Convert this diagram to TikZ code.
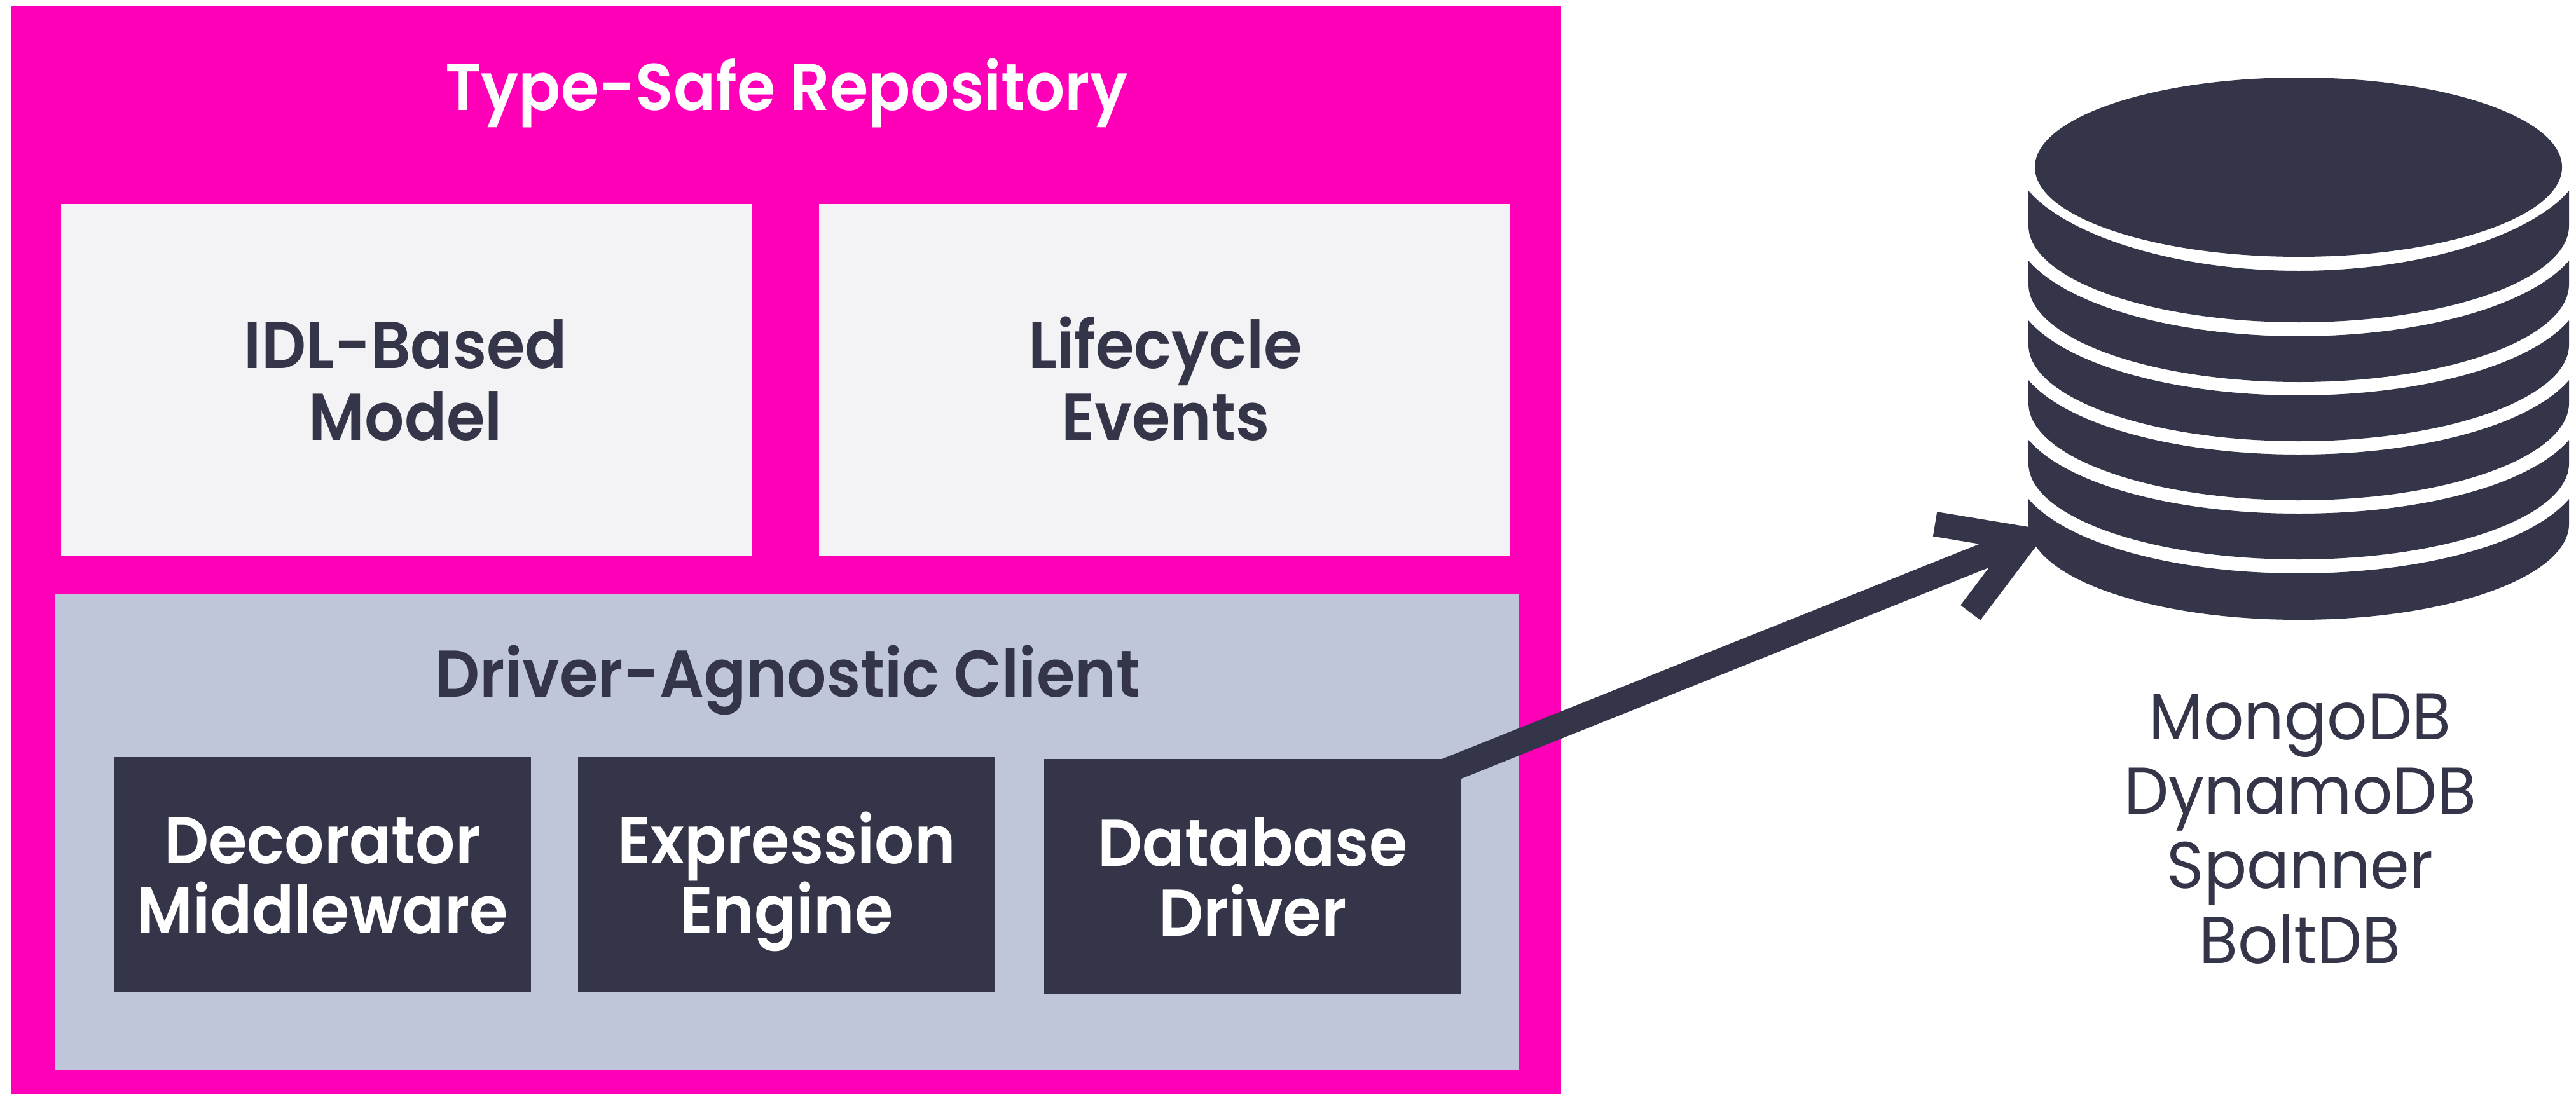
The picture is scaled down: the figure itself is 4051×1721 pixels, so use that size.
\documentclass[tikz,border=0pt]{standalone}
\usepackage{fontspec}
\usetikzlibrary{arrows.meta,calc}
\setmainfont{Poppins}
\newfontfamily\headfont[FakeStretch=0.94]{Poppins SemiBold}
\newfontfamily\labelfont[FakeStretch=0.955]{Poppins}
\definecolor{pinkfill}{HTML}{FF00B8}
\definecolor{darkfill}{HTML}{343548}
\definecolor{lilacfill}{HTML}{BFC6DA}
\definecolor{palefill}{HTML}{F3F3F5}
\tikzset{
  region/.style={anchor=north west,inner sep=0pt,outer sep=0pt,draw=none},
  headtext/.style={font=\headfont\fontsize{104}{113}\selectfont,align=center,inner sep=0pt},
  boxtext/.style={font=\headfont\fontsize{104}{110}\selectfont,align=center,inner sep=0pt,text=white,anchor=base},
  palebox/.style={region,fill=palefill,minimum width=1087pt,minimum height=553pt},
  darkbox/.style={region,fill=darkfill,minimum width=656pt,minimum height=369pt},
  dbshape/.style={fill=darkfill,draw=none},
  flow/.style={draw=darkfill,line width=40pt,-{Straight Barb[length=124pt,width=150pt,line width=39pt]}},
}
\newcommand{\dblayer}[4]{%
  \fill[dbshape] (3190,#1) -- (3190,#2)
    .. controls (3190,{#2+0.5523*(#4-#2)}) and (3380,#4) .. (3615,#4)
    .. controls (3850,#4) and (4040,{#2+0.5523*(#4-#2)}) .. (4040,#2)
    -- (4040,#1)
    .. controls (3979,{#1+71}) and (3808,#3) .. (3615,#3)
    .. controls (3422,#3) and (3251,{#1+71}) .. (3190,#1) -- cycle;}
\begin{document}
\begin{tikzpicture}[x=1pt,y=-1pt]
\useasboundingbox (0,0) rectangle (4051,1721);
\fill[white] (0,0) rectangle (4051,1721);
% containers
\node[region,fill=pinkfill,minimum width=2437pt,minimum height=1711pt] (repo) at (18,10) {};
\node[headtext,text=white,anchor=base] (repotitle) at (1237,173) {Type-Safe Repository};
\node[palebox] (idl) at (96,321) {};
\node[palebox] (life) at (1288,321) {};
\node[headtext,text=darkfill,anchor=base] (idltext) at (638,692) {IDL-Based\\Model};
\node[headtext,text=darkfill,anchor=base] (lifetext) at (1833,692) {Lifecycle\\Events};
\node[region,fill=lilacfill,minimum width=2303pt,minimum height=750pt] (client) at (86,934) {};
\node[headtext,text=darkfill,anchor=base] (clienttitle) at (1239,1096) {Driver-Agnostic Client};
% database
\fill[dbshape] (3615,122) .. controls (3844,122) and (4029,185) .. (4029,263)
  .. controls (4029,341) and (3844,404) .. (3615,404)
  .. controls (3386,404) and (3200,341) .. (3200,263)
  .. controls (3200,185) and (3386,122) .. (3615,122) -- cycle;
\dblayer{300}{355}{426}{507}
\dblayer{410}{447}{529}{601}
\dblayer{504}{542}{622}{694}
\dblayer{598}{634}{715}{787}
\dblayer{692}{729}{808}{880}
\dblayer{785}{824}{902}{975}
\node[region,minimum width=850pt,minimum height=853pt] (db) at (3190,122) {};
% inner boxes
\node[darkbox] (driver) at (1642,1194) {};
\coordinate (flowstart) at ($(driver.north east)+(-29,21)$);
\coordinate (flowend) at (3221,834);
\draw[flow] (flowstart) -- (flowend);
\node[darkbox] (deco) at (179,1191) {};
\node[darkbox] (expr) at (909,1191) {};
\node[boxtext] (decotext) at (507,1468) {Decorator\\Middleware};
\node[boxtext] (exprtext) at (1237,1468) {Expression\\Engine};
\node[boxtext] (drivertext) at (1970,1472) {Database\\Driver};
\node[font=\labelfont\fontsize{104}{117.3}\selectfont,text=darkfill,align=center,inner sep=0pt,anchor=base] (dbnames) at (3617,1515) {MongoDB\\DynamoDB\\Spanner\\BoltDB};
\end{tikzpicture}
\end{document}
